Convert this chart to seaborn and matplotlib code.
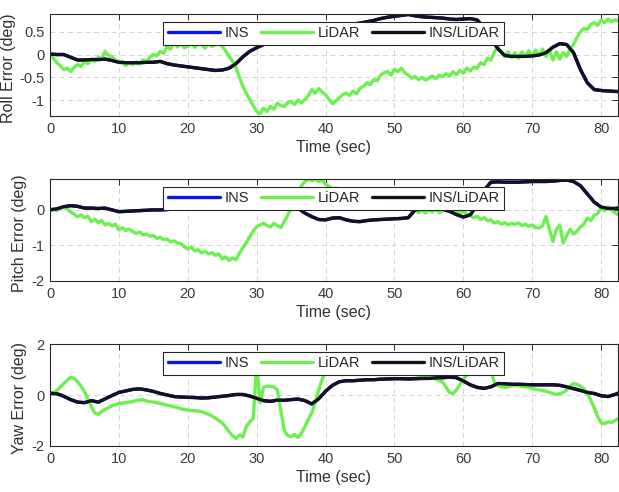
import numpy as np
import matplotlib
matplotlib.use("Agg")
import matplotlib.pyplot as plt
import seaborn as sns

# ---------------- data ----------------
t_fused = list(range(0, 84))  # 1 s samples, 0..83 s
t_lidar_step = 0.5            # LiDAR samples every 0.5 s

roll_fused = [0.01, 0.00, 0.00, -0.06, -0.12, -0.12, -0.11, -0.11, -0.10, -0.13,
              -0.17, -0.18, -0.18, -0.18, -0.17, -0.17, -0.15, -0.20, -0.23, -0.25,
              -0.27, -0.29, -0.31, -0.33, -0.35, -0.34, -0.30, -0.20, -0.05, 0.07,
              0.15, 0.22, 0.30, 0.36, 0.42, 0.46, 0.50, 0.53, 0.55, 0.57,
              0.59, 0.61, 0.63, 0.65, 0.67, 0.69, 0.72, 0.75, 0.79, 0.82,
              0.84, 0.86, 0.88, 0.85, 0.83, 0.82, 0.81, 0.80, 0.78, 0.77,
              0.78, 0.79, 0.76, 0.60, 0.35, 0.13, -0.02, -0.04, -0.04, -0.04,
              -0.03, -0.01, 0.04, 0.16, 0.24, 0.22, 0.04, -0.33, -0.62, -0.77,
              -0.79, -0.80, -0.81, -0.81]
roll_ins = [0.01, 0.00, 0.00, -0.06, -0.12, -0.12, -0.11, -0.11, -0.10, -0.13,
            -0.17, -0.18, -0.18, -0.18, -0.17, -0.17, -0.15, -0.20, -0.23, -0.25,
            -0.27, -0.29, -0.31, -0.33, -0.35, -0.34, -0.30, -0.20, -0.05, 0.07,
            0.15, 0.22, 0.30, 0.36, 0.42, 0.46, 0.50, 0.53, 0.55, 0.57,
            0.59, 0.61, 0.63, 0.65, 0.67, 0.69, 0.72, 0.75, 0.79, 0.82,
            0.84, 0.86, 0.88, 0.85, 0.83, 0.82, 0.81, 0.80, 0.78, 0.77,
            0.78, 0.79, 0.76, 0.60, 0.35, 0.13, -0.02, -0.04, -0.04, -0.04,
            -0.03, -0.01, 0.04, 0.16, 0.24, 0.22, 0.04, -0.33, -0.62, -0.77,
            -0.79, -0.80, -0.81, -0.82]
roll_lidar = [0.00, -0.08, -0.18, -0.25, -0.33, -0.30, -0.37, -0.28, -0.22, -0.26,
              -0.16, -0.20, -0.11, -0.15, -0.06, -0.10, 0.07, -0.02, -0.05, -0.12,
              -0.18, -0.15, -0.24, -0.18, -0.22, -0.16, -0.21, -0.12, -0.15, -0.06,
              0.00, -0.03, 0.07, 0.03, 0.18, 0.12, 0.26, 0.17, 0.24, 0.15,
              0.18, 0.25, 0.16, 0.24, 0.22, 0.14, 0.25, 0.18, 0.22, 0.27,
              0.18, 0.08, -0.04, -0.15, -0.29, -0.50, -0.70, -0.85, -0.99, -1.12,
              -1.25, -1.30, -1.18, -1.25, -1.14, -1.20, -1.07, -1.12, -1.14, -1.06,
              -1.03, -1.10, -1.00, -1.06, -0.99, -0.90, -0.77, -0.85, -0.75, -0.82,
              -0.88, -0.98, -1.08, -1.02, -0.95, -0.88, -0.85, -0.90, -0.80, -0.86,
              -0.74, -0.70, -0.62, -0.66, -0.55, -0.58, -0.45, -0.40, -0.37, -0.45,
              -0.32, -0.38, -0.30, -0.40, -0.45, -0.52, -0.48, -0.55, -0.50, -0.56,
              -0.52, -0.47, -0.53, -0.45, -0.49, -0.42, -0.47, -0.38, -0.44, -0.35,
              -0.41, -0.30, -0.36, -0.28, -0.30, -0.18, -0.22, -0.08, -0.12, 0.05,
              0.18, 0.05, -0.04, 0.06, -0.06, 0.04, -0.08, 0.06, -0.04, 0.08,
              -0.06, 0.10, -0.02, 0.12, -0.04, 0.10, -0.12, 0.06, -0.10, 0.04,
              -0.04, 0.12, 0.22, 0.38, 0.50, 0.58, 0.55, 0.66, 0.70, 0.64,
              0.76, 0.70, 0.78, 0.72, 0.76, 0.74, 0.72]

pitch_fused = [0.00, 0.03, 0.09, 0.12, 0.10, 0.05, 0.05, 0.04, 0.05, 0.00,
               -0.05, -0.04, -0.03, -0.02, -0.01, 0.00, 0.00, 0.01, 0.03, 0.05,
               0.10, 0.12, 0.14, 0.12, 0.10, 0.22, 0.30, 0.35, 0.38, 0.40,
               0.40, 0.38, 0.35, 0.30, 0.25, 0.15, 0.05, -0.09, -0.19, -0.27,
               -0.28, -0.23, -0.22, -0.28, -0.32, -0.33, -0.30, -0.28, -0.27, -0.26,
               -0.25, -0.24, -0.22, 0.00, 0.02, 0.04, 0.04, 0.02, -0.04, -0.13,
               -0.20, -0.14, 0.15, 0.55, 0.78, 0.79, 0.78, 0.78, 0.78, 0.79,
               0.80, 0.80, 0.80, 0.81, 0.83, 0.84, 0.80, 0.68, 0.45, 0.22,
               0.08, 0.04, 0.04, 0.06]
pitch_ins = [0.00, 0.03, 0.09, 0.12, 0.10, 0.05, 0.05, 0.04, 0.05, 0.00,
             -0.05, -0.04, -0.03, -0.02, -0.01, 0.00, 0.00, 0.01, 0.03, 0.05,
             0.10, 0.12, 0.14, 0.12, 0.10, 0.22, 0.30, 0.35, 0.38, 0.40,
             0.40, 0.38, 0.35, 0.30, 0.25, 0.15, 0.05, -0.09, -0.19, -0.27,
             -0.28, -0.23, -0.22, -0.28, -0.32, -0.33, -0.30, -0.28, -0.27, -0.26,
             -0.25, -0.24, -0.22, 0.00, 0.02, 0.04, 0.04, 0.02, -0.04, -0.13,
             -0.20, -0.14, 0.15, 0.55, 0.78, 0.79, 0.78, 0.78, 0.78, 0.79,
             0.80, 0.80, 0.80, 0.81, 0.83, 0.84, 0.80, 0.68, 0.45, 0.22,
             0.08, 0.04, 0.04, 0.06]
pitch_lidar = [0.00, 0.03, -0.02, 0.05, 0.09, 0.02, -0.06, -0.12, -0.19, -0.14,
               -0.22, -0.18, -0.33, -0.26, -0.36, -0.30, -0.42, -0.38, -0.45, -0.40,
               -0.56, -0.50, -0.58, -0.54, -0.61, -0.66, -0.62, -0.70, -0.68, -0.74,
               -0.72, -0.80, -0.77, -0.84, -0.82, -0.90, -0.87, -0.93, -0.95, -1.04,
               -1.10, -1.05, -1.15, -1.12, -1.21, -1.16, -1.24, -1.20, -1.28, -1.24,
               -1.38, -1.32, -1.42, -1.35, -1.40, -1.22, -1.07, -0.92, -0.75, -0.60,
               -0.47, -0.42, -0.38, -0.44, -0.48, -0.38, -0.44, -0.50, -0.33, -0.15,
               0.05, 0.28, 0.51, 0.68, 0.80, 0.86, 0.82, 0.87, 0.80, 0.84,
               0.72, 0.66, 0.58, 0.62, 0.52, 0.55, 0.46, 0.50, 0.40, 0.44,
               0.36, 0.40, 0.30, 0.34, 0.26, 0.30, 0.22, 0.27, 0.18, 0.24,
               0.16, 0.22, 0.14, 0.25, 0.12, -0.04, 0.02, -0.08, -0.01, -0.09,
               0.01, -0.06, 0.03, -0.08, -0.02, 0.05, -0.05, 0.02, -0.03, -0.09,
               -0.04, -0.12, -0.16, -0.22, -0.18, -0.27, -0.22, -0.30, -0.28, -0.37,
               -0.33, -0.40, -0.36, -0.42, -0.38, -0.41, -0.37, -0.44, -0.40, -0.46,
               -0.42, -0.50, -0.51, -0.45, -0.19, -0.55, -0.89, -0.55, -0.42, -0.93,
               -0.72, -0.55, -0.68, -0.60, -0.48, -0.40, -0.23, -0.30, -0.15, -0.10,
               0.05, -0.02, 0.09, 0.00, -0.08, -0.14, -0.16]

yaw_fused = [0.07, 0.05, -0.05, -0.18, -0.28, -0.30, -0.22, -0.28, -0.15, -0.02,
             0.10, 0.16, 0.22, 0.24, 0.20, 0.14, 0.06, 0.00, -0.06, -0.08,
             -0.09, -0.10, -0.12, -0.11, -0.08, -0.05, -0.02, 0.02, 0.02, -0.04,
             -0.13, -0.22, -0.25, -0.20, -0.21, -0.18, -0.16, -0.22, -0.35, -0.15,
             0.15, 0.38, 0.52, 0.56, 0.56, 0.58, 0.60, 0.60, 0.62, 0.63,
             0.64, 0.64, 0.63, 0.64, 0.65, 0.65, 0.67, 0.68, 0.70, 0.68,
             0.55, 0.40, 0.30, 0.26, 0.32, 0.45, 0.44, 0.42, 0.42, 0.41,
             0.40, 0.40, 0.40, 0.40, 0.38, 0.32, 0.25, 0.18, 0.10, 0.06,
             -0.03, -0.06, 0.02, 0.13]
yaw_ins = [0.07, 0.05, -0.05, -0.18, -0.28, -0.30, -0.22, -0.28, -0.15, -0.02,
           0.10, 0.16, 0.22, 0.24, 0.20, 0.14, 0.06, 0.00, -0.06, -0.08,
           -0.09, -0.10, -0.12, -0.11, -0.08, -0.05, -0.02, 0.02, 0.02, -0.04,
           -0.13, -0.22, -0.25, -0.20, -0.21, -0.18, -0.16, -0.22, -0.35, -0.15,
           0.15, 0.38, 0.52, 0.56, 0.56, 0.58, 0.60, 0.60, 0.62, 0.63,
           0.64, 0.64, 0.63, 0.64, 0.65, 0.65, 0.67, 0.68, 0.70, 0.68,
           0.55, 0.40, 0.30, 0.26, 0.32, 0.45, 0.44, 0.42, 0.42, 0.41,
           0.40, 0.40, 0.40, 0.40, 0.38, 0.32, 0.25, 0.18, 0.10, 0.06,
           -0.03, -0.06, 0.02, 0.13]
yaw_lidar = [0.00, 0.08, 0.18, 0.32, 0.45, 0.58, 0.70, 0.66, 0.52, 0.35,
             0.13, -0.15, -0.45, -0.70, -0.76, -0.65, -0.56, -0.50, -0.42, -0.38,
             -0.33, -0.32, -0.30, -0.28, -0.26, -0.22, -0.20, -0.18, -0.24, -0.26,
             -0.28, -0.30, -0.33, -0.36, -0.40, -0.43, -0.46, -0.50, -0.54, -0.57,
             -0.59, -0.60, -0.62, -0.63, -0.65, -0.70, -0.76, -0.82, -0.90, -1.00,
             -1.10, -1.25, -1.44, -1.60, -1.70, -1.57, -1.65, -1.24, -1.05, -0.92,
             1.20, -0.30, 0.30, 0.35, 0.34, 0.32, 0.20, -0.60, -1.37, -1.60,
             -1.63, -1.55, -1.66, -1.50, -1.25, -0.95, -0.70, -0.30, 0.20, 0.60,
             0.95, 0.88, 0.84, 0.82, 0.86, 0.80, 0.84, 0.90, 0.95, 1.00,
             1.05, 1.10, 1.15, 1.10, 1.12, 1.05, 1.00, 0.98, 0.95, 0.92,
             0.90, 0.88, 0.86, 0.85, 0.84, 0.82, 0.80, 0.78, 0.76, 0.75,
             0.72, 0.68, 0.62, 0.58, 0.50, 0.30, 0.10, 0.05, 0.20, 0.40,
             0.62, 0.78, 0.88, 0.95, 1.00, 1.02, 1.05, 1.02, 0.95, 0.50,
             0.38, 0.33, 0.30, 0.32, 0.36, 0.38, 0.36, 0.33, 0.32, 0.30,
             0.26, 0.22, 0.20, 0.18, 0.15, 0.10, 0.06, 0.03, 0.05, 0.10,
             0.20, 0.35, 0.45, 0.42, 0.35, 0.25, 0.05, -0.20, -0.50, -0.85,
             -1.10, -1.12, -1.05, -1.08, -1.00, -0.92, -0.85]

series_names = ["INS", "LiDAR", "INS/LiDAR"]
y_labels = ["Roll Error (deg)", "Pitch Error (deg)", "Yaw Error (deg)"]
x_label = "Time (sec)"
x_ticks = [0, 10, 20, 30, 40, 50, 60, 70, 80]
y_ticks = [[-1, -0.5, 0, 0.5], [-2, -1, 0], [-2, 0, 2]]
y_ticklabels = [["-1", "-0.5", "0", "0.5"], ["-2", "-1", "0"], ["-2", "0", "2"]]

# ---------------- style ----------------
sns.set_style("white")
plt.rcParams["font.family"] = ["Liberation Sans", "DejaVu Sans"]
plt.rcParams["axes.unicode_minus"] = False

c_ins = "#0a14e6"
c_lidar = "#6cf050"
c_fused = "#12121e"
txt = "#262626"

fig = plt.figure(figsize=(6.19, 4.92), dpi=100)
left, width, height = 0.0808, 0.917, 0.2073
bottoms = [0.7642, 0.4289, 0.0935]
ylims = [(-1.35, 0.89), (-2.0, 0.87), (-2.0, 2.0)]
label_x = [-0.060, -0.040, -0.040]

data = [(roll_ins, roll_lidar, roll_fused),
        (pitch_ins, pitch_lidar, pitch_fused),
        (yaw_ins, yaw_lidar, yaw_fused)]

for i, (ins, lid, fus) in enumerate(data):
    ax = fig.add_axes([left, bottoms[i], width, height])
    t_l = np.arange(len(lid)) * t_lidar_step
    sns.lineplot(x=t_fused, y=ins, ax=ax, color=c_ins, lw=2.2, label=series_names[0])
    sns.lineplot(x=t_l, y=lid, ax=ax, color=c_lidar, lw=1.4, label=series_names[1])
    sns.lineplot(x=t_fused, y=fus, ax=ax, color=c_fused, lw=1.4, label=series_names[2])
    ax.set_xlim(0, 82.4)
    ax.set_ylim(*ylims[i])
    ax.set_xticks(x_ticks)
    ax.set_xticklabels([str(v) for v in x_ticks])
    ax.set_yticks(y_ticks[i])
    ax.set_yticklabels(y_ticklabels[i])
    ax.grid(True, ls=(0, (5, 4)), color="#d4d4d4", lw=0.7)
    ax.set_axisbelow(True)
    ax.tick_params(direction="in", top=True, right=True, length=4, width=0.7,
                   color=txt, labelcolor="#3a3a3a", labelsize=10.5, pad=4)
    for s in ax.spines.values():
        s.set_color(txt)
        s.set_linewidth(0.8)
    ax.set_xlabel(x_label, fontsize=11.5, color="#303030", labelpad=3)
    ax.set_ylabel(y_labels[i], fontsize=11.5, color="#303030")
    ax.yaxis.set_label_coords(label_x[i], 0.47)
    handles, labels = ax.get_legend_handles_labels()
    for h in handles:
        h.set_linewidth(2.4)
    leg = ax.legend(handles, labels, loc="upper center", bbox_to_anchor=(0.5, 1.0),
                    ncol=3, frameon=True, fancybox=False, framealpha=1,
                    edgecolor=txt, fontsize=10.5, handlelength=3.6,
                    handletextpad=0.3, columnspacing=0.8, borderpad=0.3,
                    borderaxespad=0.55)
    leg.get_frame().set_linewidth(0.8)
    for tx in leg.get_texts():
        tx.set_color("#262626")

fig.savefig("out.png", dpi=100)
